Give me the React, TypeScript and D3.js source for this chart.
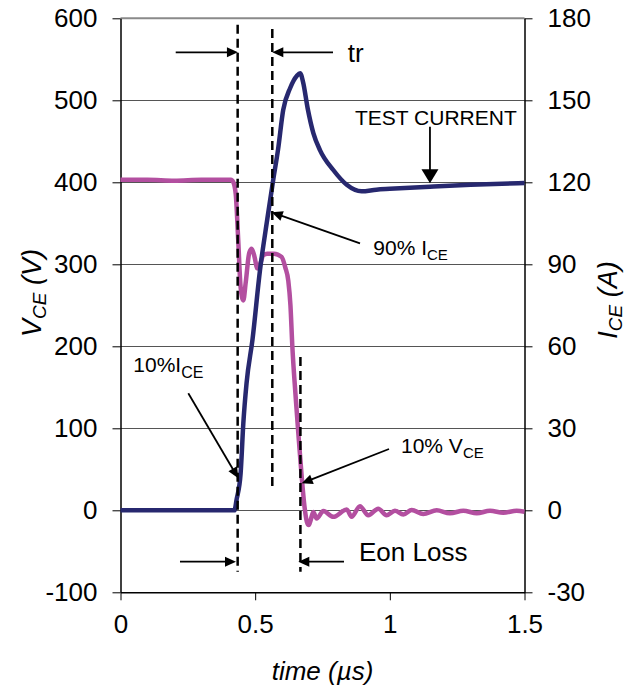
import React, { useEffect, useRef } from "react";
import * as d3 from "d3";

// V_CE (V) vs time (µs)
const vTime = [0, 0.1, 0.2, 0.3, 0.41, 0.419, 0.428, 0.437, 0.446, 0.456, 0.465, 0.478, 0.487, 0.497, 0.508, 0.518, 0.53, 0.545, 0.57, 0.598, 0.612, 0.623, 0.631, 0.638, 0.65, 0.66, 0.673, 0.683, 0.692, 0.699, 0.706, 0.716, 0.728, 0.753, 0.79, 0.84, 0.858, 0.889, 0.92, 0.957, 0.988, 1.019, 1.05, 1.081, 1.124, 1.174, 1.223, 1.273, 1.323, 1.372, 1.421, 1.471, 1.5];
const vValues = [403, 403, 402, 403, 403, 400, 385, 330, 272, 256, 278, 314, 319, 310, 295, 300, 311, 313, 313, 309, 296, 280, 250, 200, 140, 95, 40, 5, -14, -18, -12, -2, -10, -1, -8, 1, -8, 5, -6, 2, -6, -0.5, -5, 0.5, -4.5, 0, -3.7, -0.5, -3.7, -0.5, -3, -0.5, -1.7];

// I_CE (A) vs time (µs)
const iTime = [0, 0.2, 0.423, 0.431, 0.446, 0.456, 0.468, 0.49, 0.518, 0.545, 0.567, 0.585, 0.604, 0.63, 0.655, 0.667, 0.678, 0.695, 0.716, 0.741, 0.79, 0.84, 0.895, 0.95, 1.0, 1.149, 1.3, 1.5];
const iValues = [0, 0, 0, 3.9, 13.5, 31.8, 46.5, 62.4, 87.9, 106.5, 120.9, 132, 146.4, 154.5, 159, 159.9, 156.6, 147, 138, 131.7, 124.5, 119.1, 116.7, 117.3, 117.6, 118.4, 119.1, 119.7];

const xTicks = [0, 0.5, 1, 1.5];
const leftTicks = [-100, 0, 100, 200, 300, 400, 500, 600];
const rightTicks = [-30, 0, 30, 60, 90, 120, 150, 180];
const gridTicks = [0, 100, 200, 300, 400, 500];

// marker lines (time in µs, voltage-axis extents)
const dashTimes = [0.435, 0.5636, 0.668];
const dashTops = [592, 587, 187];
const dashBottoms = [-75, 28, -75];

const FONT = "'Liberation Sans', Arial, sans-serif";
const NAVY = "#27286F";
const PINK = "#B34FA0";

export default function App() {
  const ref = useRef<SVGSVGElement | null>(null);

  useEffect(() => {
    const svg = d3.select(ref.current);
    svg.selectAll("*").remove();

    const x = d3.scaleLinear().domain([0, 1.5]).range([120.5, 524.5]);
    const yV = d3.scaleLinear().domain([-100, 600]).range([592.3, 18.3]);
    const yI = d3.scaleLinear().domain([-30, 180]).range([592.3, 18.3]);

    // gridlines
    svg.append("g").selectAll("line").data(gridTicks).join("line")
      .attr("x1", x(0)).attr("x2", x(1.5))
      .attr("y1", (d) => Math.round(yV(d)) + 0.5).attr("y2", (d) => Math.round(yV(d)) + 0.5)
      .attr("stroke", "#555").attr("stroke-width", 1);

    // top border
    svg.append("line").attr("x1", x(0)).attr("x2", x(1.5)).attr("y1", yV(600)).attr("y2", yV(600))
      .attr("stroke", "#8a8a8a").attr("stroke-width", 2);

    const styleAxis = (g: any) => {
      g.select(".domain").attr("stroke", "#000").attr("stroke-width", 1.5);
      g.selectAll(".tick line").attr("stroke", "#000").attr("stroke-width", 1);
      g.selectAll(".tick text").attr("font-family", FONT).attr("font-size", 26).attr("fill", "#000");
    };

    svg.append("g").attr("transform", `translate(${x(0)},0)`)
      .call(d3.axisLeft(yV).tickValues(leftTicks).tickSize(8).tickSizeOuter(0).tickPadding(15).tickFormat((d: any) => String(d)))
      .call(styleAxis);
    svg.append("g").attr("transform", `translate(${x(1.5)},0)`)
      .call(d3.axisRight(yI).tickValues(rightTicks).tickSize(8).tickSizeOuter(0).tickPadding(15).tickFormat((d: any) => String(d)))
      .call(styleAxis);
    svg.append("g").attr("transform", `translate(0,${yV(-100)})`)
      .call(d3.axisBottom(x).tickValues(xTicks).tickSize(8).tickSizeOuter(0).tickPadding(14).tickFormat((d: any) => String(d)))
      .call(styleAxis);

    // curves
    const vData = vTime.map((t, i) => [t, vValues[i]] as [number, number]);
    const iData = iTime.map((t, i) => [t, iValues[i]] as [number, number]);
    svg.append("path").datum(vData)
      .attr("d", d3.line<[number, number]>().x((d) => x(d[0])).y((d) => yV(d[1])).curve(d3.curveMonotoneX))
      .attr("fill", "none").attr("stroke", PINK).attr("stroke-width", 4.5).attr("stroke-linejoin", "round");
    svg.append("path").datum(iData)
      .attr("d", d3.line<[number, number]>().x((d) => x(d[0])).y((d) => yI(d[1])).curve(d3.curveMonotoneX))
      .attr("fill", "none").attr("stroke", NAVY).attr("stroke-width", 4.5).attr("stroke-linejoin", "round");

    // dashed markers
    svg.append("g").selectAll("line").data(dashTimes).join("line")
      .attr("x1", (d) => x(d)).attr("x2", (d) => x(d))
      .attr("y1", (_d, i) => yV(dashTops[i])).attr("y2", (_d, i) => yV(dashBottoms[i]))
      .attr("stroke", "#000").attr("stroke-width", 2.5).attr("stroke-dasharray", "9,5");

    // arrows
    const arrow = (t1: number, v1: number, t2: number, v2: number, len = 11, hw = 5) => {
      const x1 = x(t1), y1 = yV(v1), x2 = x(t2), y2 = yV(v2);
      const dx = x2 - x1, dy = y2 - y1;
      const L = Math.hypot(dx, dy);
      const ux = dx / L, uy = dy / L;
      const bx = x2 - ux * len, by = y2 - uy * len;
      svg.append("line").attr("x1", x1).attr("y1", y1).attr("x2", bx + ux * 1).attr("y2", by + uy * 1)
        .attr("stroke", "#000").attr("stroke-width", 1.8);
      svg.append("polygon")
        .attr("points", `${x2},${y2} ${bx - uy * hw},${by + ux * hw} ${bx + uy * hw},${by - ux * hw}`)
        .attr("fill", "#000");
    };
    arrow(0.205, 558.5, 0.436, 558.5);
    arrow(0.789, 558.5, 0.5636, 558.5);
    arrow(1.149, 467.8, 1.149, 398.8, 14, 8.5);
    arrow(0.8893, 325.6, 0.5614, 363.4);
    arrow(0.2517, 142.7, 0.4374, 39);
    arrow(0.9969, 74.8, 0.6728, 32.9);
    arrow(0.2209, -62.7, 0.4288, -62.7);
    arrow(0.8298, -62.7, 0.6602, -62.7);

    const txt = (px: number, py: number, size: number) =>
      svg.append("text").attr("x", px).attr("y", py).attr("font-family", FONT).attr("font-size", size).attr("fill", "#000");

    txt(347.7, 61.7, 26).text("tr");
    txt(355, 125, 21).text("TEST CURRENT");
    const t90 = txt(373.3, 255, 21);
    t90.append("tspan").text("90% I");
    t90.append("tspan").attr("font-size", 15).attr("dy", 5).text("CE");
    const t10i = txt(133.3, 371.7, 21);
    t10i.append("tspan").text("10%I");
    t10i.append("tspan").attr("font-size", 16).attr("dy", 6.5).text("CE");
    const t10v = txt(401, 453.3, 21);
    t10v.append("tspan").text("10% V");
    t10v.append("tspan").attr("font-size", 15).attr("dy", 4.5).text("CE");
    txt(359, 560.5, 26).text("Eon Loss");

    // axis titles
    txt(322.5, 680, 26).attr("text-anchor", "middle").attr("font-style", "italic").text("time (µs)");
    const lt = svg.append("text").attr("transform", "translate(41,293) rotate(-90)")
      .attr("text-anchor", "middle").attr("font-family", FONT).attr("font-size", 27).attr("font-style", "italic");
    lt.append("tspan").text("V");
    lt.append("tspan").attr("font-size", 19).attr("dy", 5).text("CE");
    lt.append("tspan").attr("dy", -5).text(" (V)");
    const rt = svg.append("text").attr("transform", "translate(617,300) rotate(-90)")
      .attr("text-anchor", "middle").attr("font-family", FONT).attr("font-size", 27).attr("font-style", "italic");
    rt.append("tspan").text("I");
    rt.append("tspan").attr("font-size", 19).attr("dy", 5).text("CE");
    rt.append("tspan").attr("dy", -5).text(" (A)");
  }, []);

  return (
    <svg ref={ref} width={639} height={695}
      style={{ position: "absolute", left: 0, top: 0, background: "#fff", display: "block" }} />
  );
}
